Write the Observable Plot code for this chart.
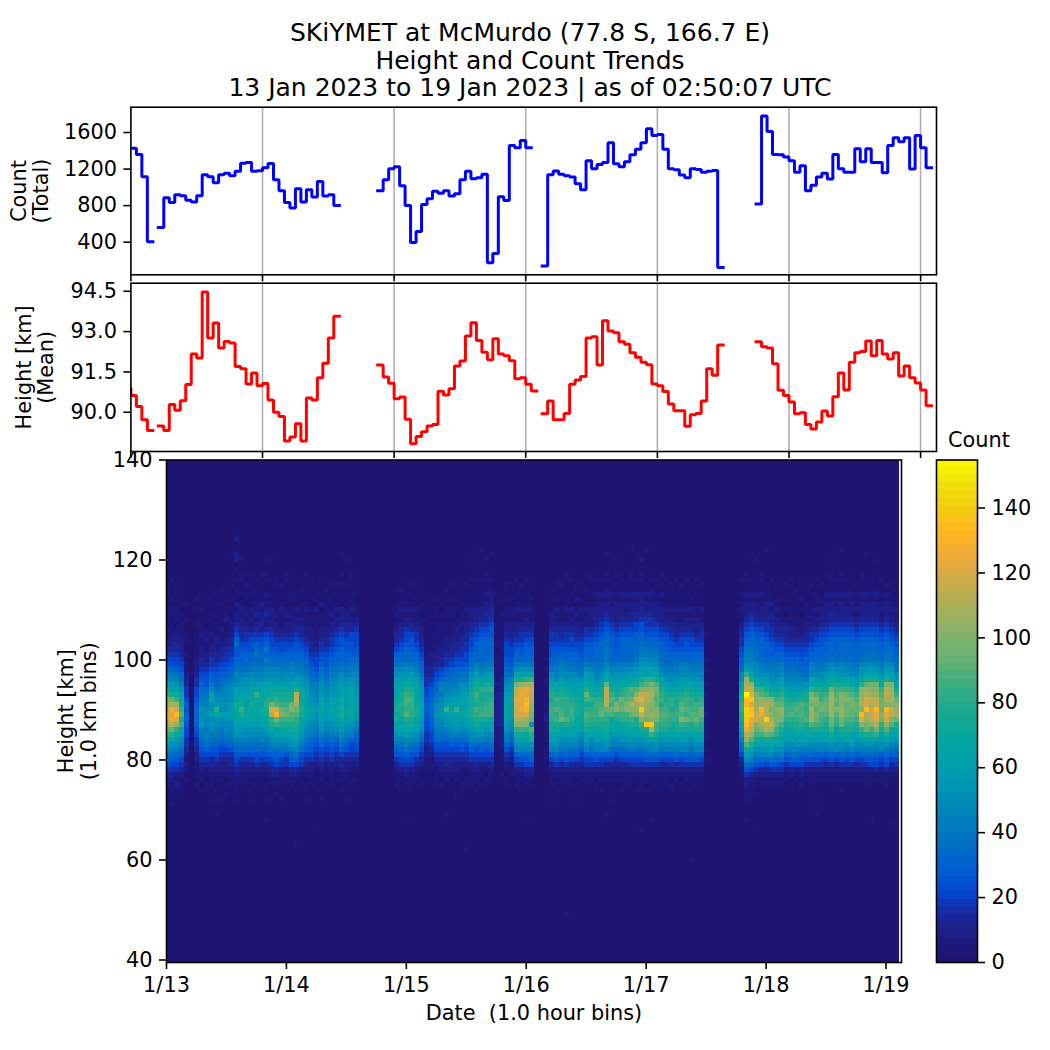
<!DOCTYPE html>
<html>
<head>
<meta charset="utf-8">
<script src="https://cdn.jsdelivr.net/npm/d3@7"></script>
<script src="https://cdn.jsdelivr.net/npm/@observablehq/plot@0.6"></script>
<style>
html,body{margin:0;background:#fff}
#fig{position:relative;width:1050px;height:1050px;overflow:hidden;font-family:"DejaVu Sans";color:#000}
#title{position:absolute;left:0;width:1060px;top:19px;text-align:center;font-size:25px;line-height:27.6px}
#cbtitle{position:absolute;left:948px;top:428px;font-size:20.83px;line-height:24px}
</style>
</head>
<body>
<div id="fig">
<div id="title"></div>
<div id="cbtitle"></div>
</div>
<script>
const titleLines = ["SKiYMET at McMurdo (77.8 S, 166.7 E)", "Height and Count Trends", "13 Jan 2023 to 19 Jan 2023 | as of 02:50:07 UTC"];
const dayHours = [0, 24, 48, 72, 96, 120, 144];
const dayLabels = ["1/13", "1/14", "1/15", "1/16", "1/17", "1/18", "1/19"];
const countTicks = [400, 800, 1200, 1600];
const heightTicks = [90, 91.5, 93, 94.5];
const heatTicks = [40, 60, 80, 100, 120, 140];
const colorTicks = [0, 20, 40, 60, 80, 100, 120, 140];

// hourly total count, one array per unbroken run; the runs start at these hours
const countStarts = [0, 5, 45, 75, 114];
const countRun1 = [1429, 1360, 1116, 404];
const countRun2 = [560, 887, 833, 920, 909, 858, 840, 909, 1138, 1116, 1051, 1138, 1153, 1127, 1175, 1265, 1273, 1175, 1182, 1215, 1262, 1084, 964, 833, 775, 985, 840, 975, 895, 1065, 905, 920, 800];
const countRun3 = [964, 1084, 1204, 1225, 1018, 800, 396, 516, 811, 876, 956, 935, 964, 905, 931, 1084, 1175, 1095, 1105, 1142, 175, 276, 898, 855, 1458, 1433, 1513, 1433];
const countRun4 = [138, 1138, 1178, 1142, 1127, 1113, 1040, 975, 1291, 1204, 1251, 1273, 1487, 1258, 1225, 1280, 1356, 1418, 1487, 1640, 1567, 1578, 1418, 1204, 1193, 1135, 1105, 1204, 1196, 1164, 1175, 1185, 124];
const countRun5 = [818, 1782, 1611, 1360, 1356, 1331, 1291, 1164, 1236, 964, 1022, 1113, 1153, 1091, 1360, 1204, 1164, 1164, 1422, 1280, 1422, 1273, 1273, 1160, 1458, 1542, 1498, 1542, 1200, 1567, 1433, 1215];

// hourly mean height
const heightStarts = [-1, 5, 45, 75, 114];
const heightRun1 = [90.9, 90.62, 90.21, 89.72, 89.32];
const heightRun2 = [89.49, 89.32, 90.29, 90.07, 90.43, 91.03, 92.17, 92.02, 94.47, 92.76, 93.32, 92.39, 92.63, 92.58, 91.70, 91.62, 91.05, 91.46, 90.99, 91.07, 90.46, 90.0, 89.84, 88.93, 89.08, 89.57, 88.93, 90.53, 90.46, 91.28, 91.82, 92.76, 93.57];
const heightRun3 = [91.76, 91.31, 91.08, 90.5, 90.57, 89.74, 88.83, 89.1, 89.27, 89.49, 89.54, 90.78, 90.64, 90.87, 91.72, 91.91, 92.84, 93.33, 92.67, 92.23, 91.95, 92.73, 92.17, 92.1, 91.92, 91.25, 91.28, 91.04, 90.79];
const heightRun4 = [89.94, 90.42, 89.72, 89.72, 89.95, 91.04, 91.2, 91.33, 92.76, 92.81, 91.76, 93.4, 93.02, 92.96, 92.62, 92.53, 92.21, 92.05, 91.86, 91.77, 91.05, 90.99, 90.77, 90.31, 90.06, 90.06, 89.48, 89.91, 89.95, 90.42, 91.62, 91.38, 92.5];
const heightRun5 = [92.62, 92.44, 92.39, 91.8, 90.82, 90.62, 90.38, 89.94, 89.98, 89.54, 89.38, 89.64, 90.05, 89.86, 90.58, 91.46, 90.83, 91.86, 92.21, 92.26, 92.65, 92.1, 92.67, 92.17, 91.98, 92.21, 91.35, 91.72, 91.28, 91.09, 90.83, 90.24];

// height-time histogram: one string per hourly column, one character per km from 119 km down to 70 km
const levelAlphabet = "0123456789abcdefghijklmnopqrstuvwxyzABCD";
const countPerLevel = 4;
const heatTopKm = 119;
const heatColumns = [
"0000100010 1112122345 68acfilpqs vtrnkhfca8 6432211100",
"0001000101 1011122345 68abegjnrv uvsnkgdb97 5432111010",
"0000101001 1101223345 579bdfhlrt xuqkheca86 5421211000",
"0000010010 1011122234 5689bdfhik milgfcb975 4321110000",
"0000000010 0100110011 2123344576 7765544321 2101000000",
"",
"0000000101 0010111112 2234455678 8876544322 1110100000",
"0000001001 0111211223 3456789abd cdeba98654 3211010000",
"0000000110 0101121122 3456689abc dbcaba8754 3110110000",
"0000010100 1101212234 4578acfhcd ebdca97653 3211100100",
"0000001010 1011122233 456789bcek hdcba98654 3211010000",
"0000010011 0102112334 56789abcdc ecba986543 2211000100",
"0000001001 1201122344 5678abccdc edbca97543 2210101000",
"0000100101 0121233445 6789bccdee edcba98643 3211100000",
"0101011021 2234578667 89bbcefgih hgfedb9865 4321110100",
"0011001012 1223345677 89acdefhil jgfecb9864 3211100000",
"0010101101 2123445678 89bcdefggh gfedcb9864 3211010000",
"0011001012 1212456677 9acdefghih hgfdca9764 3210110100",
"0001011112 3123457898 9abceglihh gfedca9865 4211100000",
"0010101021 2232456787 9abcefghgi hgfdcb9764 3211010000",
"0011002112 3213567a7a abcdfghjkj ihgeca9865 3210110100",
"0001001012 2223455678 9bcdfhijou rkjhecb975 4321100000",
"0001101011 2122345678 9bcdfhikmu wnkgfdb976 5321101000",
"0000101012 1112345578 9abcegijln oljhfdb975 4211100100",
"0011001001 2122345678 9acdfhijlm nljhfdb964 4211010000",
"0000101101 1122345678 abcdfhijnp mljifeca87 5321100000",
"0001001102 1223456678 9abegjstqn mkjihfdb97 5321010000",
"0001011011 1223345678 9abdefhhij ihgfdca965 4211100000",
"0010011012 1112234567 89acdefegh gfdcba8754 3210110100",
"0000100101 0112223345 6789abcdef edcba87654 2211100000",
"0000001102 0111122345 5678abbcde dcba976543 2101000000",
"0001001020 1112234456 79abcdefgh gfedb98654 3211010100",
"0001010111 1112233456 6789abcdee edcb976543 2110100000",
"0000100111 2122344567 89abcdefgh gfdca97654 2211100000",
"0000101012 1223455677 89abcddfeg gedca86543 2101000000",
"0010100102 2234566788 9acdefgihi jhfecb9753 3211010000",
"0000101011 2233456677 89acdefefg gfdca97643 2211000100",
"0011001112 1233556678 9acdefgfgh hfdcb85543 2101100000",
"0000101011 1234555678 9abcddeeef edca876543 2101000000",
"","","","","","","",
"0000010011 2112334578 9bcefgghij higfdb9764 3211100000",
"0000010112 1123345678 abdefhiikj jhgfdb9865 4211010000",
"0001001012 1224556788 acdfhjlmlk mjhgfcb975 4321100000",
"0000101012 1233566788 acefhjkllk kjifdb9865 4211110000",
"0000100102 1123445678 9acefghghj ihgfdb9764 3211000000",
"0000001011 0112233456 789bcdefgf fedca86543 2101100000",
"0000000001 0101101112 2334455677 6655443221 1101000000",
"0000000100 1010111122 2334567788 8776554321 1101000000",
"0000000101 1011111222 3456789abc dcba986543 2111100000",
"0000001010 1011111223 3568ab9ccd dcba986543 2210100000",
"0000010101 1011122234 4678abcdfl fedb986543 3211000000",
"0000100101 1011122334 5789abcefg fedca97543 2210100000",
"0000100101 0112223345 6789abdegl hfedb86543 2211001000",
"0000010011 1121233445 689acdeffg gfdca87643 2110110000",
"0000101012 1122334455 689acdegfg hfecb86543 2101100000",
"0001001012 2233455678 9acefhiiij jhgecb9754 2211100000",
"0011001012 2234567788 acegijlkjl kjifdb8654 3211010000",
"0001011112 2345678887 9bcfhkiijk ljhfdb8754 2110100000",
"0011012122 3345678778 abdfjkijkl lifdca8654 2101100000",
"0001012223 3456678788 acegiljkll ligfcb8754 3211000000",
"0000001000 0010101011 0111212222 2221111100 1000000000",
"0000000100 1001011111 1112223333 3332222111 1010000000",
"0000110101 1122345556 789acdefgh gfedba8643 2101100000",
"0000100101 1122334556 689bcdefee fdcb986432 1110000000",
"0001001012 1122345678 acfjostuut trplifcb75 4211100000",
"0000101012 1123445678 acfjquvuuv trplifdb86 4211010000",
"0001001012 1223456778 adfkrvuwxw uqplhgdb86 5321100000",
"0000100112 1123456778 acglrtsrqp ondmkjdb97 5321100000",
"","",
"0000000000 0000010001 0101111111 2211110101 0100000000",
"0000010101 2223445667 8acegikjkl lkjihfcb85 3211100100",
"0000100112 1123445678 9abcfhjlkm kljifedb86 4210110000",
"0001100101 1123345678 abcegijkkl mnihfcb975 3211010000",
"0011001012 1123445677 9acdfhikkk kmjgfdba86 4211100000",
"0001001012 1223455678 9acdeghjkl lkjhfdb975 3211100000",
"0000010201 2123345678 8abdefgijj ihhgecb875 3210100100",
"0000100102 1122345567 89acegghih hhgfcb9754 3211010000",
"0010011012 1224456778 acefhjnlik mlkigecb75 4211100000",
"0011001112 2223456778 9bdefhjkjk lkjhfcb875 4211010000",
"0001012112 2334567888 9abcegikll lkjhgecb76 4210110000",
"0001002122 2345678888 9acdfhiklm nkjhgebb75 4211010000",
"0011012122 3456788a9a bdfhnstsrn lkjihfdb75 3211000000",
"0001012112 2345677788 9bcegikmln mhhgecb875 3211010100",
"0010101122 2234566778 abdefhjlop kjhgecb864 3211000000",
"0011002122 2345677788 abdfhjkomn lkhgedb875 3211010000",
"0000102121 2345678788 acdfhklmop lkihfdb975 3211100000",
"0011012122 3345678888 acefimlnrp nljhgeca75 4211000000",
"0001012122 3355778899 bdegjmptqq ojjhfdb975 4211010000",
"0011012223 3466789aac defilptvsy spljgdb975 4211110000",
"0000102122 34456789ac defkmpsrqq pnyjhfca86 4211010000",
"0011012122 34456789ab dfhkoqrqpp qpyrlgcb86 4211000000",
"0001001122 23456789ab cegimonmnp polligdb86 4211100000",
"0010102012 2234567788 9bcfgikljl mlkifdb975 3211010000",
"0001001012 1234566788 9abdfhjjkl mlkjgecb75 3211100000",
"0000101012 1233456678 9abcegikkj lkjhfdca75 4210110000",
"0001001012 1123345678 9abdegijjk lkjigeca86 3211000000",
"0000101012 1123455678 abcefhjkmn mpljgecb75 4210100000",
"0001001012 1223456678 abcefikllm lokifecb86 4211010000",
"0000100112 1223455677 9abdfhikkl mmjigdb976 4211000000",
"0001001001 1222345678 9abdegijll mnljgecb86 4211100000",
"0000100112 1123445678 9abcegikln nljigecb85 4211010000",
"0000000000 0000100001 0100101111 2111110101 0000000000",
"","","","","","",
"0001001012 1123344567 79bcegijkk jigfdb9753 2110000000",
"0011012122 23456789ab cfkqrtDxxz zyxvsqmiec 9642211100",
"0001012122 34567889ab cdfjqsvyux yvusqmjgdb 8532111000",
"0001012122 2345678899 bcdfhlopqr stpnligdb8 6421101000",
"0011012112 2345677888 abceglmqrw vsrplhfdb8 6321100000",
"0000101122 2344567778 9acefjlprr szsrnifdb8 5321100000",
"0001001121 2234456778 9abcegjpqo prsqmigfc9 6421100000",
"0000100112 1223345678 9abcegilnp oonlkhfca8 6421100000",
"0000010101 1123345678 abcegikmnq poljhgfdb8 5421100000",
"0000100101 0123334567 89abdfhjkl lkihfeca86 4211000000",
"0001001001 1112234567 89abcegikl mkjhgfcb97 5320100000",
"0000010011 0112234567 89abdegilm lkjihedb97 5211000000",
"0000100101 0111234556 789bcehjml mlkigfda86 5321100000",
"0000010011 1122334567 789adfijlk lmjhgfda86 4211000000",
"0000101011 1123445678 abcfgkopor qrmjheca86 4211100000",
"0001001112 1223456778 9acegjmpom onljgecb76 4211000100",
"0000100112 2234566778 9acdfiklno mlkigecb85 4211000000",
"0010012122 2234567788 abdfhjlmnn mkjigfca75 3211000000",
"0011012122 3345678889 bdegjnqrrq qonljgdb86 4211000000",
"0001012112 2345677788 acegjlmnmp mlkhgecb75 3211000000",
"0011012122 2345678889 bcdfilpppq qonjhedb86 4211010000",
"0001012112 2345678888 abdgilnpnn nmkjhfca85 4211000000",
"0010012122 2345678889 abcfhkmoon nmkjhgeb86 4211000000",
"0000101112 1234567788 9abegikmnn mljifeca75 3211000000",
"0011002122 2345678889 bdegkpqrrp xuplifcb85 4211000000",
"0001012122 2345678899 bdfinqrutx rqonjgda86 4211100000",
"0001011122 2345678899 cefjopqsrt tspljgdb86 5211000000",
"0010012122 2345678899 bdfinpqstx uurokgca86 5311000000",
"0001001012 1234567788 9bcfhlmnon pokjfecb75 4211000000",
"0000102122 2345678899 cefjprsrpx utqmjgda86 5311100000",
"0000101112 1234567899 bdfhpqrrpt spmifeb975 3211000000",
"0000010112 1123456778 9acegilnpq qnjifeb975 4211000000"
];
// scattered faint cells outside the string range: [column, km, count]
const faintCells = [[14,120,8],[14,121,8],[14,122,4],[14,124,8],[14,125,4],[13,121,4],[15,120,4],[20,120,4],[22,121,4],[35,121,4],[36,120,4],[61,120,4],[63,122,4],[64,120,4],[65,121,4],[88,121,4],[90,120,4],[93,122,4],[95,120,8],[96,122,4],[117,121,4],[118,120,4],[120,122,4],[133,120,4],[135,122,4],[140,121,4],[142,120,4],[10,69,4],[20,68,4],[30,66,4],[48,68,4],[56,69,4],[72,68,4],[95,66,4],[88,69,4],[97,68,4],[116,68,4],[118,66,4],[130,69,4],[145,67,4],[141,68,4],[60,62,4],[26,63,4],[80,49,4],[105,60,4]];

const colorStops = [0, 6, 12, 16, 20, 28, 36, 44, 52, 60, 68, 76, 84, 92, 100, 108, 116, 124, 132, 140, 148, 155];
const colorValues = ["#1f1472", "#1e1a80", "#1c2596", "#1431b0", "#0445cf", "#005fd2", "#0071c0", "#0082bb", "#0093b5", "#00a0ac", "#05a69d", "#1aa98f", "#3aae82", "#66b272", "#85b268", "#a8b05a", "#ccaa4a", "#eeaa38", "#ffb81e", "#f2d10e", "#f2e608", "#ffff00"];

const font = "DejaVu Sans";
const labelSize = 20.83;
const fig = document.getElementById("fig");
document.getElementById("title").innerHTML = titleLines.map(t => `<div>${t}</div>`).join("");
document.getElementById("cbtitle").textContent = "Count";

function runsToPoints(starts, runs) {
  const pts = [];
  runs.forEach((run, k) => {
    run.forEach((v, i) => pts.push({h: starts[k] + i, v, run: k}));
    pts.push({h: starts[k] + run.length, v: run[run.length - 1], run: k});
  });
  return pts;
}
function place(plot, left, top) {
  plot.style.position = "absolute";
  plot.style.left = left + "px";
  plot.style.top = top + "px";
  plot.style.background = "transparent";
  fig.appendChild(plot);
}
function yLabel(text, dx) {
  return Plot.text([text], {text: d => d, frameAnchor: "left", dx, rotate: -90, textAnchor: "middle", lineHeight: 1.08, fontSize: labelSize, fill: "black"});
}
const baseStyle = {fontFamily: font, fontSize: labelSize + "px", color: "black", background: "transparent", overflow: "visible"};
const spine = () => Plot.frame({stroke: "black", strokeWidth: 1.6});

function trendPanel({height, marginTop, marginBottom, domain, ticks, format, runs, stroke, label, labelDx}) {
  return Plot.plot({
    width: 945, height, marginLeft: 130.4, marginRight: 9, marginTop, marginBottom,
    style: baseStyle,
    x: {domain: [0, 146.9]},
    y: {domain},
    marks: [
      Plot.ruleX(dayHours.slice(1), {stroke: "#b0b0b0", strokeWidth: 1.6}),
      Plot.line(runs, {x: "h", y: "v", z: "run", curve: "step-after", stroke, strokeWidth: 3, strokeLinecap: "square", strokeLinejoin: "miter", clip: true}),
      Plot.axisX({ticks: dayHours, tickSize: 7, tickFormat: () => "", strokeWidth: 1.6, stroke: "black", label: null}),
      Plot.axisY({ticks, tickSize: 7, tickPadding: 7, tickFormat: format, strokeWidth: 1.6, stroke: "black", label: null}),
      spine(),
      yLabel(label, labelDx)
    ]
  });
}

place(trendPanel({
  height: 183, marginTop: 6.7, marginBottom: 8.7, domain: [43, 1877], ticks: countTicks, format: d3.format("d"),
  runs: runsToPoints(countStarts, [countRun1, countRun2, countRun3, countRun4, countRun5]),
  stroke: "#0000ff", label: "Count\n(Total)", labelDx: -101
}), 0, 100);

place(trendPanel({
  height: 182, marginTop: 5.7, marginBottom: 8, domain: [88.54, 94.8], ticks: heightTicks, format: d3.format(".1f"),
  runs: runsToPoints(heightStarts, [heightRun1, heightRun2, heightRun3, heightRun4, heightRun5]),
  stroke: "#ff0000", label: "Height [km]\n(Mean)", labelDx: -96
}), 0, 277);

const heatBackground = [{x1: -0.4, x2: 146.6, y1: 39.5, y2: 140, v: 0}];
const heatCells = [];
heatColumns.forEach((col, n) => {
  [...col.replace(/ /g, "")].forEach((ch, i) => {
    const level = levelAlphabet.indexOf(ch);
    if (level > 0) {
      const km = heatTopKm - i;
      heatCells.push({x1: n - 0.4, x2: n + 0.6, y1: km - 0.5, y2: km + 0.5, v: level * countPerLevel});
    }
  });
});
faintCells.forEach(([n, km, c]) => heatCells.push({x1: n - 0.4, x2: n + 0.6, y1: km - 0.5, y2: km + 0.5, v: c}));
const colorScale = {type: "linear", domain: colorStops, range: colorValues, clamp: true};

place(Plot.plot({
  width: 915, height: 588, marginLeft: 166, marginRight: 14, marginTop: 7.5, marginBottom: 78,
  style: baseStyle,
  x: {domain: [0, 147.1]},
  y: {domain: [39.5, 140]},
  color: colorScale,
  marks: [
    Plot.rect(heatBackground, {x1: "x1", x2: "x2", y1: "y1", y2: "y2", fill: "v", clip: true, shapeRendering: "crispEdges"}),
    Plot.rect(heatCells, {x1: "x1", x2: "x2", y1: "y1", y2: "y2", fill: "v", clip: true, shapeRendering: "crispEdges"}),
    Plot.axisX({ticks: dayHours, tickSize: 7, tickPadding: 8, tickFormat: (d, i) => dayLabels[i], strokeWidth: 1.6, stroke: "black", label: null}),
    Plot.axisY({ticks: heatTicks, tickSize: 7, tickPadding: 7, strokeWidth: 1.6, stroke: "black", label: null}),
    spine(),
    yLabel("Height [km]\n(1.0 km bins)", -89),
    Plot.text(["Date  (1.0 hour bins)"], {text: d => d, frameAnchor: "bottom", dy: 57, fontSize: labelSize, fill: "black", textAnchor: "middle"})
  ]
}), 0, 452);

const colorbarStep = 155 / 64;
const colorbarLevels = d3.range(0, 155, colorbarStep);
place(Plot.plot({
  width: 135, height: 588, marginLeft: 21, marginRight: 73, marginTop: 7.5, marginBottom: 78,
  style: baseStyle,
  x: {domain: [0, 1], axis: null},
  y: {domain: [0, 154.8]},
  color: colorScale,
  marks: [
    Plot.rect(colorbarLevels, {x1: 0, x2: 1, y1: d => d, y2: d => d + colorbarStep, fill: d => d, shapeRendering: "crispEdges"}),
    Plot.axisY({anchor: "right", ticks: colorTicks, tickSize: 7, tickPadding: 7, strokeWidth: 1.6, stroke: "black", label: null}),
    spine()
  ]
}), 915, 452);
</script>
</body>
</html>
